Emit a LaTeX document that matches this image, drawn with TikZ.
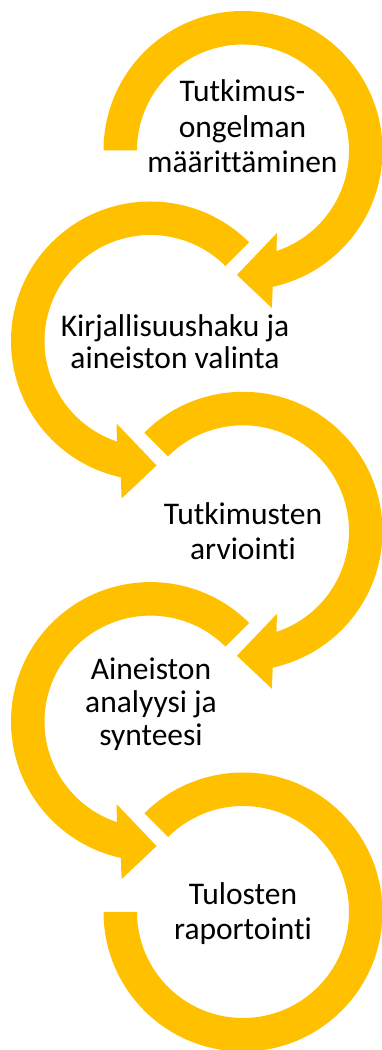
\documentclass[tikz,border=0pt]{standalone}
\usepackage{fontspec}
\setmainfont[Ligatures={NoCommon}]{Carlito}
\definecolor{gold}{HTML}{FFC000}
\tikzset{
  % clockwise loop arrow around a centre; #1 = start angle of the tail
  cwarrow/.pic={
    \fill[gold] (#1:139.5) arc[start angle=#1, end angle=-77.7, radius=139.5]
      -- (-79.6:160.1) -- (-92.8:124.6) -- (-67.6:89.2) -- (-71.6:106)
      arc[start angle=-71.6, end angle=#1, radius=106] -- cycle;
  },
  % last loop: plain band without a head
  endloop/.pic={
    \fill[gold] (135:139.5) arc[start angle=135, end angle=-180, radius=139.5]
      -- (180:106) arc[start angle=-180, end angle=135, radius=106] -- cycle;
  },
  % labels are placed by the baseline of their last line
  steptext/.style={font=\fontsize{31.5}{#1}\selectfont, align=center,
    anchor=base, inner sep=0pt, text=black},
}
\begin{document}
\begin{tikzpicture}[x=1pt, y=1pt]
  \useasboundingbox (0,0) rectangle (382,1050);
  % loop centres
  \coordinate (c1) at (243,899.5);
  \coordinate (c2) at (150.5,709);
  \coordinate (c3) at (243,518.7);
  \coordinate (c4) at (150.5,328.4);
  \coordinate (c5) at (243,138);
  % arrows
  \pic at (c1) {cwarrow=180};
  \pic[xscale=-1] at (c2) {cwarrow=135};
  \pic at (c3) {cwarrow=135};
  \pic[xscale=-1] at (c4) {cwarrow=135};
  \pic at (c5) {endloop};
  % step labels
  \node[steptext=35.5] (t1) at (242.5,877) {Tutkimus-\\ongelman\\määrittäminen};
  \node[steptext=31.7] (t2) at (175,681.6) {Kirjallisuushaku ja\\aineiston valinta};
  \node[steptext=34.3] (t3) at (243,490.7) {Tutkimusten\\arviointi};
  \node[steptext=33] (t4) at (151,304) {Aineiston\\analyysi ja\\synteesi};
  \node[steptext=35] (t5) at (243,110) {Tulosten\\raportointi};
\end{tikzpicture}
\end{document}
